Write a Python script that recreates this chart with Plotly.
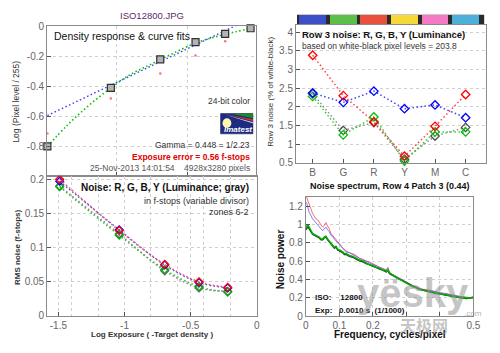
import plotly.graph_objects as go

W, H = 500, 353
def px(x): return x / W
def py(y): return 1 - y / H

FONT = "Arial, Liberation Sans, sans-serif"
DOT = "1.5px,2.5px"

# ---------------- data ----------------
# Top-left: density response
tl_x = [-1.49, -1.04, -0.69, -0.44, -0.23, -0.05]
tl_meas = [-0.80, -0.41, -0.22, -0.105, -0.05, -0.013]
tl_red_x = [-1.49, -1.04, -0.69, -0.44, -0.23]
tl_red_y = [-0.714, -0.48, -0.314, -0.194, -0.099]
gamma_x = [-1.49, -0.02]
gamma_y = [-0.594, 0.065]
fit2_x = [-1.49, -1.35, -1.2, -1.04, -0.9, -0.75, -0.6, -0.44, -0.3, -0.15, -0.05]
fit2_y = [-0.80, -0.66, -0.53, -0.41, -0.32, -0.25, -0.18, -0.112, -0.07, -0.035, -0.015]

# Bottom-left: RMS noise (f-stops)
bl_x = [-1.49, -1.04, -0.696, -0.437, -0.22]
bl_red = [0.200, 0.125, 0.0755, 0.050, 0.042]
bl_blue = [0.197, 0.126, 0.0745, 0.049, 0.041]
bl_green = [0.189, 0.118, 0.068, 0.043, 0.035]
bl_gray = [0.190, 0.120, 0.066, 0.041, 0.036]

# Top-right: row 3 noise
patches = ["B", "G", "R", "Y", "M", "C"]
patch_colors = ["#3b4fc8", "#5cbf4a", "#e9503c", "#f6d937", "#f27bc4", "#4cb0da"]
tr_blue = [2.37, 2.12, 2.42, 1.95, 2.05, 1.71]
tr_red = [3.38, 2.30, 1.60, 0.68, 1.48, 2.33]
tr_green = [2.28, 1.25, 1.73, 0.55, 1.33, 1.33]
tr_gray = [2.35, 1.37, 1.58, 0.60, 1.22, 1.45]

# Bottom-right: noise spectrum
freq = [0.002, 0.005, 0.01, 0.015, 0.02, 0.025, 0.03, 0.035, 0.04, 0.045,
        0.05, 0.055, 0.06, 0.065, 0.07, 0.075, 0.08, 0.085, 0.09, 0.095,
        0.1, 0.105, 0.11, 0.115, 0.12, 0.13, 0.14, 0.15, 0.16, 0.17,
        0.18, 0.19, 0.2, 0.21, 0.22, 0.23, 0.24, 0.245, 0.25, 0.26,
        0.27, 0.28, 0.29, 0.3, 0.31, 0.32, 0.33, 0.34, 0.35, 0.36,
        0.37, 0.38, 0.39, 0.4, 0.41, 0.42, 0.43, 0.44, 0.45, 0.46,
        0.47, 0.48, 0.49, 0.5]
sp_red = [1.30, 1.27, 1.20, 1.15, 1.12, 1.09, 1.06, 1.05, 1.02, 1.00,
          0.97, 0.99, 1.02, 0.98, 0.95, 0.90, 0.88, 0.86, 0.83, 0.81,
          0.80, 0.77, 0.74, 0.72, 0.71, 0.69, 0.68, 0.66, 0.63, 0.62,
          0.60, 0.59, 0.57, 0.55, 0.53, 0.52, 0.50, 0.53, 0.47, 0.45,
          0.43, 0.41, 0.39, 0.37, 0.35, 0.33, 0.32, 0.30, 0.29, 0.29,
          0.28, 0.27, 0.26, 0.25, 0.25, 0.24, 0.235, 0.23, 0.22, 0.21,
          0.21, 0.205, 0.20, 0.21]
sp_blue = [1.24, 1.20, 1.13, 1.10, 1.06, 1.04, 1.02, 1.00, 0.98, 0.95,
           0.93, 0.95, 0.97, 0.94, 0.92, 0.88, 0.87, 0.84, 0.82, 0.80,
           0.79, 0.76, 0.74, 0.72, 0.70, 0.69, 0.67, 0.65, 0.63, 0.61,
           0.60, 0.58, 0.56, 0.55, 0.53, 0.51, 0.50, 0.52, 0.46, 0.45,
           0.43, 0.41, 0.39, 0.37, 0.35, 0.33, 0.31, 0.30, 0.29, 0.28,
           0.28, 0.27, 0.26, 0.25, 0.245, 0.24, 0.23, 0.225, 0.22, 0.21,
           0.205, 0.20, 0.20, 0.21]
sp_green = [0.96, 1.00, 0.97, 0.93, 0.90, 0.89, 0.88, 0.87, 0.86, 0.84,
            0.84, 0.86, 0.87, 0.84, 0.82, 0.80, 0.77, 0.75, 0.76, 0.73,
            0.72, 0.71, 0.70, 0.68, 0.68, 0.66, 0.65, 0.63, 0.61, 0.60,
            0.58, 0.56, 0.55, 0.53, 0.52, 0.50, 0.49, 0.50, 0.47, 0.44,
            0.42, 0.40, 0.38, 0.36, 0.34, 0.32, 0.31, 0.29, 0.28, 0.275,
            0.27, 0.26, 0.25, 0.24, 0.235, 0.23, 0.22, 0.215, 0.21, 0.20,
            0.20, 0.195, 0.195, 0.20]
sp_black = [0.94, 0.98, 0.95, 0.92, 0.89, 0.88, 0.87, 0.86, 0.85, 0.83,
            0.83, 0.85, 0.86, 0.83, 0.81, 0.79, 0.76, 0.74, 0.75, 0.72,
            0.71, 0.70, 0.69, 0.67, 0.67, 0.65, 0.64, 0.62, 0.60, 0.59,
            0.57, 0.56, 0.54, 0.53, 0.51, 0.50, 0.48, 0.49, 0.46, 0.44,
            0.42, 0.40, 0.38, 0.36, 0.34, 0.32, 0.305, 0.29, 0.28, 0.27,
            0.265, 0.255, 0.245, 0.24, 0.23, 0.225, 0.22, 0.21, 0.205, 0.20,
            0.195, 0.19, 0.195, 0.20]

# ---------------- figure ----------------
fig = go.Figure()

# Top-left
fig.add_trace(go.Scatter(x=gamma_x, y=gamma_y, mode="lines", xaxis="x", yaxis="y",
                         line=dict(color="#3a3aff", width=1.4, dash=DOT)))
fig.add_trace(go.Scatter(x=fit2_x, y=fit2_y, mode="lines", xaxis="x", yaxis="y",
                         line=dict(color="#00c000", width=1.6, dash=DOT, shape="spline")))
fig.add_trace(go.Scatter(x=tl_red_x, y=tl_red_y, mode="markers", xaxis="x", yaxis="y",
                         marker=dict(symbol="circle", size=2.5, color="#ff7070")))
fig.add_trace(go.Scatter(x=tl_x, y=tl_meas, mode="markers", xaxis="x", yaxis="y", cliponaxis=False,
                         marker=dict(symbol="square", size=7, color="#b4b4b4",
                                     line=dict(color="#303030", width=1.2))))

# Bottom-left
for vals, col, mcol in [(bl_gray, "#8c8c8c", "#606060"), (bl_green, "#30c030", "#00b000"),
                        (bl_blue, "#5050ff", "#0000ff"), (bl_red, "#ff5050", "#ff0000")]:
    fig.add_trace(go.Scatter(x=bl_x, y=vals, mode="lines+markers", xaxis="x2", yaxis="y2",
                             cliponaxis=False,
                             line=dict(color=col, width=1.5, dash=DOT, shape="spline"),
                             marker=dict(symbol="diamond-open", size=6, color=mcol,
                                         line=dict(width=1.3, color=mcol))))

# Top-right
xs = list(range(1, len(patches) + 1))
for vals, col, mcol in [(tr_gray, "#8c8c8c", "#505050"), (tr_green, "#30d030", "#00c000"),
                        (tr_blue, "#4040ff", "#0000ff"), (tr_red, "#ff4040", "#ff0000")]:
    fig.add_trace(go.Scatter(x=xs, y=vals, mode="lines+markers", xaxis="x3", yaxis="y3",
                             cliponaxis=False,
                             line=dict(color=col, width=1.5, dash=DOT),
                             marker=dict(symbol="diamond-open", size=6.5, color=mcol,
                                         line=dict(width=1.3, color=mcol))))

# colour bar strip above top-right plot
fig.add_trace(go.Bar(x=xs, y=[1] * len(xs), width=0.88, xaxis="x5", yaxis="y5",
                     marker=dict(color=patch_colors, line=dict(width=0))))

# Bottom-right
for vals, col, w in [(sp_red, "rgba(255,80,80,0.85)", 1), (sp_blue, "rgba(90,90,255,0.8)", 1),
                     (sp_black, "#202020", 1.2), (sp_green, "#00b000", 1.6)]:
    fig.add_trace(go.Scatter(x=freq, y=vals, mode="lines", xaxis="x4", yaxis="y4",
                             line=dict(color=col, width=w)))

axis_common = dict(showline=True, linecolor="#8a8a8a", linewidth=1, mirror=True,
                   ticks="inside", ticklen=4, tickcolor="#555", zeroline=False,
                   gridcolor="#cfcfcf", griddash="dot", gridwidth=1,
                   tickfont=dict(family=FONT, size=10, color="#666"))

fig.update_layout(
    width=W, height=H, margin=dict(l=0, r=0, t=0, b=0),
    paper_bgcolor="white", plot_bgcolor="white", showlegend=False,
    font=dict(family=FONT),
    xaxis=dict(domain=[px(45), px(258)], range=[-1.492, -0.0125], anchor="y",
               tickvals=[-1.5, -1, -0.5], showticklabels=False, showgrid=True, **axis_common),
    yaxis=dict(domain=[py(177), py(22)], range=[-1, 0], anchor="x",
               tickvals=[0, -0.2, -0.4, -0.6, -0.8, -1],
               ticktext=["0", "-0.2", "-0.4", "-0.6", "-0.8", ""], showgrid=True, **axis_common),
    xaxis2=dict(domain=[px(45), px(259)], range=[-1.585, 0], anchor="y2",
                tickvals=[-1.5, -1, -0.5, 0], ticktext=["-1.5", "-1", "-0.5", "0"], showgrid=True,
                minor=dict(tickvals=[-1.4, -1.2, -0.8, -0.6, -0.4, -0.2], showgrid=True,
                           gridcolor="#cfcfcf", griddash="dot", ticks=""),
                **axis_common),
    yaxis2=dict(domain=[py(321), py(177)], range=[0, 0.204], anchor="x2",
                tickvals=[0, 0.05, 0.1, 0.15, 0.2], showgrid=True, **axis_common),
    xaxis3=dict(domain=[px(299), px(493)], range=[0.455, 6.67], anchor="y3",
                tickvals=xs, ticktext=patches, showgrid=False, **axis_common),
    yaxis3=dict(domain=[py(163), py(21)], range=[0.5, 4.18], anchor="x3",
                tickvals=[0.5, 1, 1.5, 2, 2.5, 3, 3.5, 4], showgrid=True, **axis_common),
    xaxis4=dict(domain=[px(309), px(480)], range=[0, 0.5], anchor="y4",
                tickvals=[0, 0.1, 0.2, 0.3, 0.4, 0.5], ticktext=["0", "0.1", "0.2", "", "", "0.5"],
                showgrid=True, **axis_common),
    yaxis4=dict(domain=[py(321), py(198)], range=[0, 1.3], anchor="x4",
                tickvals=[0, 0.2, 0.4, 0.6, 0.8, 1, 1.2], showgrid=True, **axis_common),
    xaxis5=dict(domain=[px(299), px(493)], range=[0.455, 6.67], anchor="y5",
                visible=False, fixedrange=True),
    yaxis5=dict(domain=[py(19.5), py(10)], range=[0, 1], anchor="x5",
                visible=False, fixedrange=True),
    bargap=0,
)

# dark band behind colour strip
shapes = [dict(type="rect", xref="paper", yref="paper", x0=px(300), x1=px(491),
               y0=py(19.5), y1=py(10), fillcolor="#2b2b2b", line=dict(width=0), layer="below")]

# Imatest logo
shapes += [
    dict(type="rect", xref="paper", yref="paper", x0=px(222), x1=px(255), y0=py(133), y1=py(112),
         fillcolor="#1e2c80", line=dict(color="#101850", width=0.5)),
    dict(type="path", xref="paper", yref="paper",
         path=f"M {px(232)},{py(112)} L {px(255)},{py(112)} L {px(255)},{py(117)} Z",
         fillcolor="#1a8a2a", line=dict(width=0)),
    dict(type="path", xref="paper", yref="paper",
         path=f"M {px(228)},{py(113)} L {px(255)},{py(118)} L {px(255)},{py(120)} Z",
         fillcolor="#d03020", line=dict(width=0)),
    dict(type="path", xref="paper", yref="paper",
         path=f"M {px(226)},{py(113)} L {px(255)},{py(121)} L {px(255)},{py(122)} Z",
         fillcolor="#e8e8f0", line=dict(width=0)),
    dict(type="circle", xref="paper", yref="paper", x0=px(224), x1=px(233), y0=py(127), y1=py(117),
         fillcolor="#fff6b0", line=dict(width=0)),
]
fig.update_layout(shapes=shapes)

def ann(x, y, text, size=9, color="#222", bold=False, xanchor="left", angle=0, italic=False, family=FONT):
    t = f"<b>{text}</b>" if bold else text
    if italic:
        t = f"<i>{t}</i>"
    fig.add_annotation(x=px(x), y=py(y), xref="paper", yref="paper", text=t, showarrow=False,
                       xanchor=xanchor, yanchor="middle", textangle=angle,
                       font=dict(family=family, size=size, color=color))

ann(152, 11, "ISO12800.JPG", size=9.5, color="#5c2a6c", xanchor="center")
ann(50, 32, "Density response &amp; curve fits", size=10.5, color="#111")
ann(254, 99, "24-bit color", size=8.5, color="#333", xanchor="right")
ann(240, 128, "Imatest", size=8, color="white", bold=True, italic=True, xanchor="center")
ann(254, 145, "Gamma = 0.448 = 1/2.23", size=8.5, color="#333", xanchor="right")
ann(254, 157, "Exposure error = 0.56 f-stops", size=8.5, color="#e00000", bold=True, xanchor="right")
ann(254, 168.5, "25-Nov-2013 14:01:54    4928x3280 pixels", size=8.5, color="#555", xanchor="right")
ann(13, 100, "Log (Pixel level / 255)", size=8.5, color="#333", xanchor="center", angle=-90)

ann(253, 188, "Noise: R, G, B, Y (Luminance; gray)", size=10, color="#111", bold=True, xanchor="right")
ann(253, 202, "in f-stops (variable divisor)", size=9, color="#333", xanchor="right")
ann(253, 214, "zones 6-2", size=9, color="#333", xanchor="right")
ann(15, 250, "RMS noise (f-stops)", size=8, color="#333", bold=True, xanchor="center", angle=-90)
ann(152, 340, "Log Exposure ( -Target density )", size=8, color="#333", bold=True, xanchor="center")

ann(303, 30, "Row 3 noise: R, G, B, Y (Luminance)", size=9.5, color="#111", bold=True)
ann(303, 42, "based on white-black pixel levels = 203.8", size=8.5, color="#333")
ann(273, 90, "Row 3 noise (% of white-black)", size=8, color="#333", xanchor="center", angle=-90)

ann(395, 187, "Noise spectrum, Row 4 Patch 3 (0.44)", size=9, color="#111", bold=True, xanchor="center")
ann(283, 262, "Noise power", size=10, color="#111", bold=True, xanchor="center", angle=-90)
ann(395, 340, "Frequency, cycles/pixel", size=10, color="#111", bold=True, xanchor="center")
ann(316, 302, "ISO:&nbsp;&nbsp;&nbsp;&nbsp;12800", size=8, color="#111", bold=True)
ann(316, 315, "Exp:&nbsp;&nbsp;&nbsp;0.0010 s&nbsp;&nbsp;(1/1000)", size=8, color="#111", bold=True)

# watermark (semi-transparent, as in the source image)
ann(418, 297, "yësky", size=40, color="rgba(140,140,140,0.5)", bold=True, xanchor="center")
ann(430, 330, "天极网", size=16, color="rgba(140,140,140,0.5)", bold=True, xanchor="center",
    family="Noto Sans CJK SC")
ann(480, 318, ".com", size=8, color="rgba(140,140,140,0.7)", xanchor="center")

fig.write_html("out.html")
